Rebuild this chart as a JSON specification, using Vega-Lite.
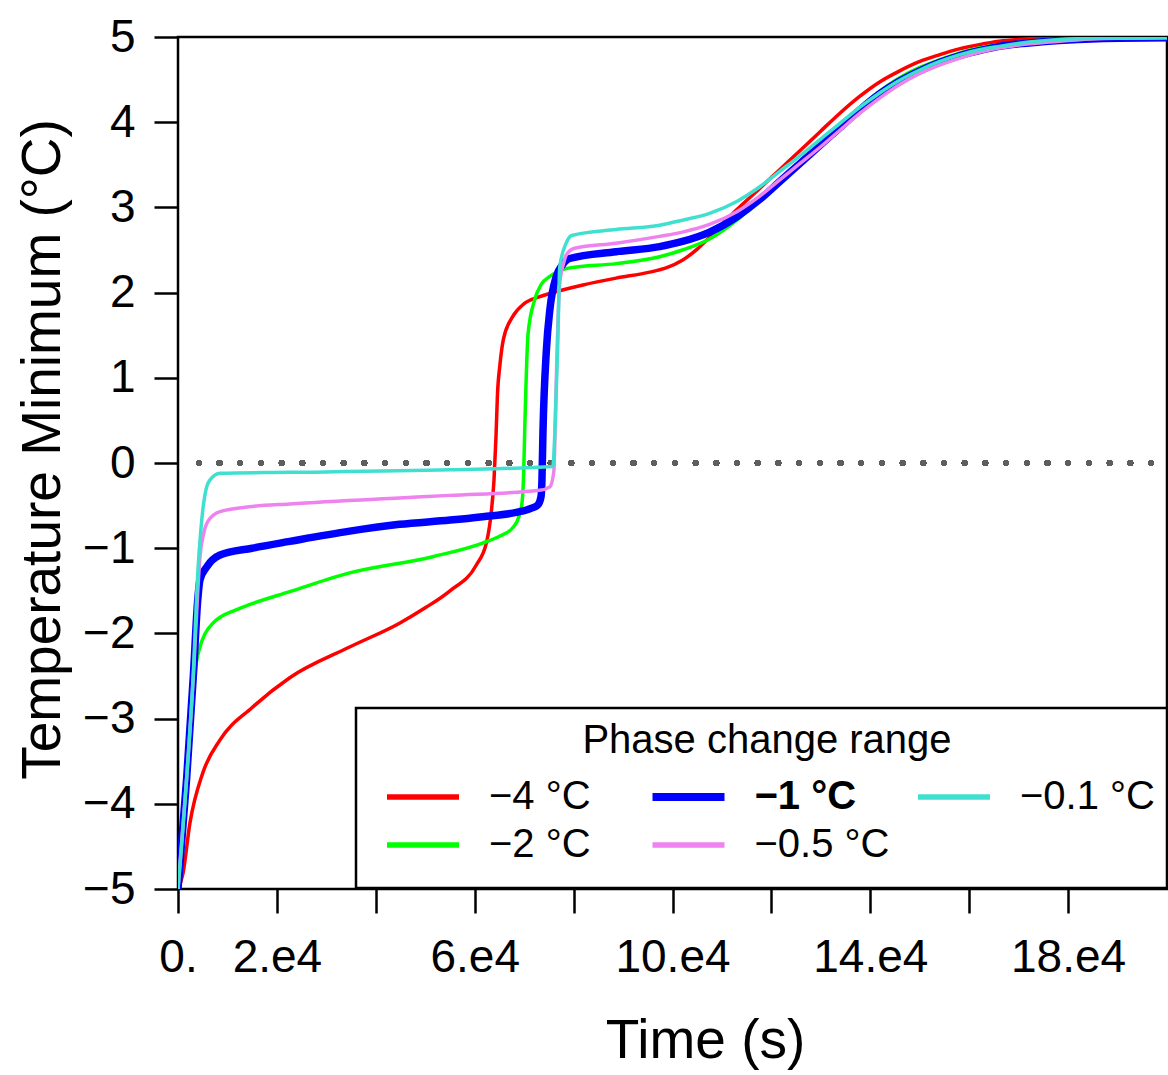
{
  "$schema": "https://vega.github.io/schema/vega-lite/v6.json",
  "width": 989,
  "height": 852,
  "autosize": {"type": "none"},
  "padding": {"left": 178, "top": 37, "right": 1, "bottom": 186},
  "background": "white",
  "config": {"view": {"stroke": "black", "strokeWidth": 2.5}, "font": "Liberation Sans"},
  "datasets": {
    "curves": [
      {"series": "−4 °C", "time": 0, "temp": -5},
      {"series": "−4 °C", "time": 1000, "temp": -4.82},
      {"series": "−4 °C", "time": 2400, "temp": -4.23},
      {"series": "−4 °C", "time": 5000, "temp": -3.64},
      {"series": "−4 °C", "time": 8500, "temp": -3.25},
      {"series": "−4 °C", "time": 15000, "temp": -2.87},
      {"series": "−4 °C", "time": 22600, "temp": -2.52},
      {"series": "−4 °C", "time": 34700, "temp": -2.16},
      {"series": "−4 °C", "time": 44800, "temp": -1.88},
      {"series": "−4 °C", "time": 50000, "temp": -1.7},
      {"series": "−4 °C", "time": 55000, "temp": -1.5},
      {"series": "−4 °C", "time": 60300, "temp": -1.2},
      {"series": "−4 °C", "time": 62400, "temp": -0.93},
      {"series": "−4 °C", "time": 63400, "temp": -0.55},
      {"series": "−4 °C", "time": 63900, "temp": -0.2},
      {"series": "−4 °C", "time": 64300, "temp": 0.3},
      {"series": "−4 °C", "time": 64600, "temp": 0.8},
      {"series": "−4 °C", "time": 65100, "temp": 1.15},
      {"series": "−4 °C", "time": 65800, "temp": 1.45},
      {"series": "−4 °C", "time": 67700, "temp": 1.72},
      {"series": "−4 °C", "time": 70000, "temp": 1.87},
      {"series": "−4 °C", "time": 73000, "temp": 1.95},
      {"series": "−4 °C", "time": 75200, "temp": 1.99},
      {"series": "−4 °C", "time": 81900, "temp": 2.09},
      {"series": "−4 °C", "time": 88600, "temp": 2.17},
      {"series": "−4 °C", "time": 95400, "temp": 2.24},
      {"series": "−4 °C", "time": 98700, "temp": 2.29},
      {"series": "−4 °C", "time": 102000, "temp": 2.38},
      {"series": "−4 °C", "time": 105000, "temp": 2.51},
      {"series": "−4 °C", "time": 108000, "temp": 2.68},
      {"series": "−4 °C", "time": 110800, "temp": 2.85},
      {"series": "−4 °C", "time": 117576, "temp": 3.22},
      {"series": "−4 °C", "time": 121616, "temp": 3.44},
      {"series": "−4 °C", "time": 125657, "temp": 3.66},
      {"series": "−4 °C", "time": 129697, "temp": 3.88},
      {"series": "−4 °C", "time": 133737, "temp": 4.1},
      {"series": "−4 °C", "time": 137778, "temp": 4.3},
      {"series": "−4 °C", "time": 141818, "temp": 4.47},
      {"series": "−4 °C", "time": 145859, "temp": 4.6},
      {"series": "−4 °C", "time": 149899, "temp": 4.71},
      {"series": "−4 °C", "time": 153939, "temp": 4.79},
      {"series": "−4 °C", "time": 157980, "temp": 4.86},
      {"series": "−4 °C", "time": 162020, "temp": 4.91},
      {"series": "−4 °C", "time": 166061, "temp": 4.95},
      {"series": "−4 °C", "time": 172121, "temp": 4.98},
      {"series": "−4 °C", "time": 178182, "temp": 4.995},
      {"series": "−4 °C", "time": 190000, "temp": 5},
      {"series": "−4 °C", "time": 200000, "temp": 5},

      {"series": "−2 °C", "time": 0, "temp": -5},
      {"series": "−2 °C", "time": 1750, "temp": -3.7},
      {"series": "−2 °C", "time": 3000, "temp": -2.8},
      {"series": "−2 °C", "time": 3434, "temp": -2.47},
      {"series": "−2 °C", "time": 4444, "temp": -2.16},
      {"series": "−2 °C", "time": 5500, "temp": -2.0},
      {"series": "−2 °C", "time": 7070, "temp": -1.88},
      {"series": "−2 °C", "time": 11860, "temp": -1.72},
      {"series": "−2 °C", "time": 14545, "temp": -1.66},
      {"series": "−2 °C", "time": 22600, "temp": -1.51},
      {"series": "−2 °C", "time": 34700, "temp": -1.29},
      {"series": "−2 °C", "time": 51500, "temp": -1.1},
      {"series": "−2 °C", "time": 61600, "temp": -0.94},
      {"series": "−2 °C", "time": 65000, "temp": -0.86},
      {"series": "−2 °C", "time": 67700, "temp": -0.76},
      {"series": "−2 °C", "time": 69000, "temp": -0.62},
      {"series": "−2 °C", "time": 69600, "temp": -0.45},
      {"series": "−2 °C", "time": 69900, "temp": -0.12},
      {"series": "−2 °C", "time": 70100, "temp": 0.35},
      {"series": "−2 °C", "time": 70800, "temp": 1.52},
      {"series": "−2 °C", "time": 72100, "temp": 1.91},
      {"series": "−2 °C", "time": 73500, "temp": 2.1},
      {"series": "−2 °C", "time": 75200, "temp": 2.19},
      {"series": "−2 °C", "time": 79200, "temp": 2.29},
      {"series": "−2 °C", "time": 88600, "temp": 2.34},
      {"series": "−2 °C", "time": 97400, "temp": 2.42},
      {"series": "−2 °C", "time": 102000, "temp": 2.5},
      {"series": "−2 °C", "time": 107500, "temp": 2.63},
      {"series": "−2 °C", "time": 113000, "temp": 2.85},
      {"series": "−2 °C", "time": 117576, "temp": 3.09},
      {"series": "−2 °C", "time": 121616, "temp": 3.31},
      {"series": "−2 °C", "time": 125657, "temp": 3.53},
      {"series": "−2 °C", "time": 129697, "temp": 3.75},
      {"series": "−2 °C", "time": 133737, "temp": 3.96},
      {"series": "−2 °C", "time": 137778, "temp": 4.17},
      {"series": "−2 °C", "time": 141818, "temp": 4.36},
      {"series": "−2 °C", "time": 145859, "temp": 4.52},
      {"series": "−2 °C", "time": 149899, "temp": 4.64},
      {"series": "−2 °C", "time": 153939, "temp": 4.73},
      {"series": "−2 °C", "time": 157980, "temp": 4.81},
      {"series": "−2 °C", "time": 162020, "temp": 4.87},
      {"series": "−2 °C", "time": 166061, "temp": 4.91},
      {"series": "−2 °C", "time": 172121, "temp": 4.95},
      {"series": "−2 °C", "time": 178182, "temp": 4.98},
      {"series": "−2 °C", "time": 190000, "temp": 4.995},
      {"series": "−2 °C", "time": 200000, "temp": 5},

      {"series": "−1 °C", "time": 0, "temp": -5},
      {"series": "−1 °C", "time": 1750, "temp": -3.7},
      {"series": "−1 °C", "time": 3100, "temp": -2.5},
      {"series": "−1 °C", "time": 4000, "temp": -1.6},
      {"series": "−1 °C", "time": 4444, "temp": -1.37},
      {"series": "−1 °C", "time": 5800, "temp": -1.22},
      {"series": "−1 °C", "time": 8500, "temp": -1.08},
      {"series": "−1 °C", "time": 15000, "temp": -1.0},
      {"series": "−1 °C", "time": 22600, "temp": -0.92},
      {"series": "−1 °C", "time": 34700, "temp": -0.8},
      {"series": "−1 °C", "time": 44800, "temp": -0.72},
      {"series": "−1 °C", "time": 55000, "temp": -0.67},
      {"series": "−1 °C", "time": 61600, "temp": -0.63},
      {"series": "−1 °C", "time": 68400, "temp": -0.58},
      {"series": "−1 °C", "time": 71500, "temp": -0.53},
      {"series": "−1 °C", "time": 72800, "temp": -0.49},
      {"series": "−1 °C", "time": 73400, "temp": -0.4},
      {"series": "−1 °C", "time": 73600, "temp": -0.2},
      {"series": "−1 °C", "time": 73800, "temp": 0.35},
      {"series": "−1 °C", "time": 74500, "temp": 1.33},
      {"series": "−1 °C", "time": 75200, "temp": 1.8},
      {"series": "−1 °C", "time": 76500, "temp": 2.19},
      {"series": "−1 °C", "time": 77800, "temp": 2.33},
      {"series": "−1 °C", "time": 79200, "temp": 2.4},
      {"series": "−1 °C", "time": 88600, "temp": 2.48},
      {"series": "−1 °C", "time": 97400, "temp": 2.54},
      {"series": "−1 °C", "time": 102000, "temp": 2.6},
      {"series": "−1 °C", "time": 107500, "temp": 2.71},
      {"series": "−1 °C", "time": 113000, "temp": 2.89},
      {"series": "−1 °C", "time": 117576, "temp": 3.09},
      {"series": "−1 °C", "time": 121616, "temp": 3.3},
      {"series": "−1 °C", "time": 125657, "temp": 3.51},
      {"series": "−1 °C", "time": 129697, "temp": 3.72},
      {"series": "−1 °C", "time": 133737, "temp": 3.93},
      {"series": "−1 °C", "time": 137778, "temp": 4.14},
      {"series": "−1 °C", "time": 141818, "temp": 4.33},
      {"series": "−1 °C", "time": 145859, "temp": 4.48},
      {"series": "−1 °C", "time": 149899, "temp": 4.6},
      {"series": "−1 °C", "time": 153939, "temp": 4.7},
      {"series": "−1 °C", "time": 157980, "temp": 4.78},
      {"series": "−1 °C", "time": 162020, "temp": 4.84},
      {"series": "−1 °C", "time": 166061, "temp": 4.89},
      {"series": "−1 °C", "time": 172121, "temp": 4.93},
      {"series": "−1 °C", "time": 178182, "temp": 4.96},
      {"series": "−1 °C", "time": 186000, "temp": 4.98},
      {"series": "−1 °C", "time": 200000, "temp": 4.99},

      {"series": "−0.5 °C", "time": 0, "temp": -5},
      {"series": "−0.5 °C", "time": 1750, "temp": -3.7},
      {"series": "−0.5 °C", "time": 3200, "temp": -2.4},
      {"series": "−0.5 °C", "time": 4000, "temp": -1.5},
      {"series": "−0.5 °C", "time": 4444, "temp": -1.1},
      {"series": "−0.5 °C", "time": 5100, "temp": -0.85},
      {"series": "−0.5 °C", "time": 6100, "temp": -0.68},
      {"series": "−0.5 °C", "time": 8500, "temp": -0.57},
      {"series": "−0.5 °C", "time": 15000, "temp": -0.51},
      {"series": "−0.5 °C", "time": 22600, "temp": -0.48},
      {"series": "−0.5 °C", "time": 44800, "temp": -0.41},
      {"series": "−0.5 °C", "time": 55000, "temp": -0.38},
      {"series": "−0.5 °C", "time": 73100, "temp": -0.32},
      {"series": "−0.5 °C", "time": 75200, "temp": -0.28},
      {"series": "−0.5 °C", "time": 76000, "temp": -0.1},
      {"series": "−0.5 °C", "time": 76300, "temp": 0.5},
      {"series": "−0.5 °C", "time": 76600, "temp": 1.2},
      {"series": "−0.5 °C", "time": 77200, "temp": 2.11},
      {"series": "−0.5 °C", "time": 78000, "temp": 2.35},
      {"series": "−0.5 °C", "time": 78500, "temp": 2.44},
      {"series": "−0.5 °C", "time": 80200, "temp": 2.52},
      {"series": "−0.5 °C", "time": 88600, "temp": 2.58},
      {"series": "−0.5 °C", "time": 97400, "temp": 2.66},
      {"series": "−0.5 °C", "time": 102000, "temp": 2.71},
      {"series": "−0.5 °C", "time": 107500, "temp": 2.8},
      {"series": "−0.5 °C", "time": 113000, "temp": 2.95},
      {"series": "−0.5 °C", "time": 117576, "temp": 3.13},
      {"series": "−0.5 °C", "time": 121616, "temp": 3.32},
      {"series": "−0.5 °C", "time": 125657, "temp": 3.51},
      {"series": "−0.5 °C", "time": 129697, "temp": 3.7},
      {"series": "−0.5 °C", "time": 133737, "temp": 3.9},
      {"series": "−0.5 °C", "time": 137778, "temp": 4.1},
      {"series": "−0.5 °C", "time": 141818, "temp": 4.28},
      {"series": "−0.5 °C", "time": 145859, "temp": 4.44},
      {"series": "−0.5 °C", "time": 149899, "temp": 4.57},
      {"series": "−0.5 °C", "time": 153939, "temp": 4.67},
      {"series": "−0.5 °C", "time": 157980, "temp": 4.75},
      {"series": "−0.5 °C", "time": 162020, "temp": 4.82},
      {"series": "−0.5 °C", "time": 166061, "temp": 4.87},
      {"series": "−0.5 °C", "time": 172121, "temp": 4.92},
      {"series": "−0.5 °C", "time": 178182, "temp": 4.95},
      {"series": "−0.5 °C", "time": 186000, "temp": 4.98},
      {"series": "−0.5 °C", "time": 200000, "temp": 4.99},

      {"series": "−0.1 °C", "time": 0, "temp": -5},
      {"series": "−0.1 °C", "time": 1750, "temp": -3.7},
      {"series": "−0.1 °C", "time": 3100, "temp": -2.46},
      {"series": "−0.1 °C", "time": 4000, "temp": -1.29},
      {"series": "−0.1 °C", "time": 4600, "temp": -0.8},
      {"series": "−0.1 °C", "time": 5100, "temp": -0.51},
      {"series": "−0.1 °C", "time": 5700, "temp": -0.3},
      {"series": "−0.1 °C", "time": 6460, "temp": -0.2},
      {"series": "−0.1 °C", "time": 8500, "temp": -0.12},
      {"series": "−0.1 °C", "time": 22600, "temp": -0.11},
      {"series": "−0.1 °C", "time": 55000, "temp": -0.08},
      {"series": "−0.1 °C", "time": 75800, "temp": -0.04},
      {"series": "−0.1 °C", "time": 76300, "temp": 0.5},
      {"series": "−0.1 °C", "time": 76800, "temp": 1.4},
      {"series": "−0.1 °C", "time": 77200, "temp": 2.3},
      {"series": "−0.1 °C", "time": 78500, "temp": 2.58},
      {"series": "−0.1 °C", "time": 79600, "temp": 2.67},
      {"series": "−0.1 °C", "time": 88600, "temp": 2.74},
      {"series": "−0.1 °C", "time": 97400, "temp": 2.79},
      {"series": "−0.1 °C", "time": 102000, "temp": 2.85},
      {"series": "−0.1 °C", "time": 107500, "temp": 2.93},
      {"series": "−0.1 °C", "time": 113000, "temp": 3.07},
      {"series": "−0.1 °C", "time": 117576, "temp": 3.24},
      {"series": "−0.1 °C", "time": 121616, "temp": 3.42},
      {"series": "−0.1 °C", "time": 125657, "temp": 3.6},
      {"series": "−0.1 °C", "time": 129697, "temp": 3.79},
      {"series": "−0.1 °C", "time": 133737, "temp": 3.98},
      {"series": "−0.1 °C", "time": 137778, "temp": 4.17},
      {"series": "−0.1 °C", "time": 141818, "temp": 4.34},
      {"series": "−0.1 °C", "time": 145859, "temp": 4.49},
      {"series": "−0.1 °C", "time": 149899, "temp": 4.61},
      {"series": "−0.1 °C", "time": 153939, "temp": 4.71},
      {"series": "−0.1 °C", "time": 157980, "temp": 4.79},
      {"series": "−0.1 °C", "time": 162020, "temp": 4.85},
      {"series": "−0.1 °C", "time": 166061, "temp": 4.89},
      {"series": "−0.1 °C", "time": 172121, "temp": 4.94},
      {"series": "−0.1 °C", "time": 178182, "temp": 4.97},
      {"series": "−0.1 °C", "time": 186000, "temp": 4.985},
      {"series": "−0.1 °C", "time": 200000, "temp": 4.99}
    ]
  },
  "data": {"name": "curves"},
  "layer": [
    {
      "mark": {"type": "rule", "color": "#5e5e5e", "strokeWidth": 5.5, "strokeDash": [0.1, 20.6], "strokeCap": "round"},
      "encoding": {"y": {"datum": 0}, "x": {"datum": 4200}, "x2": {"datum": 200000}}
    },
    {
      "mark": {"type": "line", "interpolate": "monotone", "clip": true},
      "encoding": {
        "x": {
          "field": "time", "type": "quantitative",
          "scale": {"domain": [0, 200000], "nice": false, "zero": false},
          "axis": {
            "title": "Time (s)",
            "values": [0, 20000, 40000, 60000, 80000, 100000, 120000, 140000, 160000, 180000],
            "labelExpr": "datum.value == 0 ? '0.' : (indexof([20000, 60000, 100000, 140000, 180000], datum.value) >= 0 ? (datum.value / 10000) + '.e4' : '')",
            "domain": false, "grid": false,
            "tickSize": 24, "tickWidth": 2.5, "tickColor": "black",
            "labelFontSize": 46, "labelColor": "black", "labelPadding": 22,
            "labelFlush": false, "labelOverlap": false,
            "titleFontSize": 55, "titleFontWeight": "normal", "titleColor": "black",
            "titleX": 527, "titleY": 168, "titleBaseline": "alphabetic", "titleAlign": "center"
          }
        },
        "y": {
          "field": "temp", "type": "quantitative",
          "scale": {"domain": [-5, 5], "nice": false},
          "axis": {
            "title": "Temperature Minimum (°C)",
            "values": [-5, -4, -3, -2, -1, 0, 1, 2, 3, 4, 5],
            "labelExpr": "datum.value < 0 ? '−' + abs(datum.value) : '' + datum.value",
            "domain": false, "grid": false,
            "tickSize": 24, "tickWidth": 2.5, "tickColor": "black",
            "labelFontSize": 46, "labelColor": "black", "labelPadding": 19,
            "labelFlush": false, "labelOverlap": false,
            "titleFontSize": 55, "titleFontWeight": "normal", "titleColor": "black",
            "titleX": -119, "titleY": 412, "titleAngle": -90, "titleBaseline": "alphabetic", "titleAlign": "center"
          }
        },
        "color": {
          "field": "series", "type": "nominal",
          "scale": {
            "domain": ["−4 °C", "−2 °C", "−1 °C", "−0.5 °C", "−0.1 °C"],
            "range": ["#FF0000", "#00FF00", "#0000FF", "#EE82EE", "#40E0D0"]
          },
          "legend": {
            "title": "Phase change range",
            "orient": "none", "legendX": 178, "legendY": 671,
            "columns": 3, "gridAlign": "all",
            "padding": 23, "strokeColor": "black",
            "titleFontSize": 40, "titleFontWeight": "normal", "titleColor": "black", "titleAnchor": "middle", "titlePadding": 6, "titleLimit": 900,
            "labelFontSize": 40, "labelColor": "black", "labelOffset": 46, "labelLimit": 400,
            "symbolType": "stroke", "symbolSize": 5184, "symbolStrokeWidth": 5.5, "symbolOffset": 24,
            "columnPadding": 12.5, "rowPadding": 8,
            "encode": {
              "legend": {"update": {"strokeWidth": {"value": 2.5}}},
              "title": {"update": {"dy": {"value": -10}}},
              "labels": {"update": {"fontWeight": {"signal": "datum.label === '−1 °C' ? 'bold' : 'normal'"}}},
              "symbols": {"update": {"strokeWidth": {"signal": "datum.label === '−1 °C' ? 8 : 5.5"}}}
            }
          }
        },
        "strokeWidth": {"condition": {"test": "datum.series === '−1 °C'", "value": 7.5}, "value": 3.5}
      }
    }
  ]
}
